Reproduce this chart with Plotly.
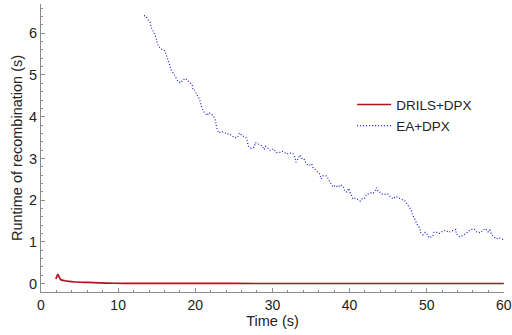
import plotly.graph_objects as go

# DRILS+DPX series
drils_t = [1.93, 2.19, 2.53, 3.09, 3.6, 4.38, 5.2, 6.1, 7.5, 9.5, 12, 15, 20, 30, 40, 50, 60]
drils_y = [0.11, 0.22, 0.10, 0.07, 0.055, 0.04, 0.034, 0.03, 0.02, 0.01, 0.008, 0.006, 0.005, 0.004, 0.004, 0.004, 0.004]

# EA+DPX series
ea_t = [13.35, 13.60, 13.86, 14.16, 14.29, 14.50, 14.71, 14.93, 15.02, 15.19, 15.44, 15.83, 16.05, 16.18,
        16.34, 16.56, 16.77, 16.90, 17.21, 17.50, 17.72, 18.06, 18.37, 18.66, 19.01, 19.31, 19.60, 19.69,
        19.86, 20.12, 20.33, 20.55, 20.72, 20.85, 21.15, 21.53, 21.75, 22.10, 22.36, 22.56, 22.65, 22.78,
        23.04, 23.38, 23.77, 24.11, 24.36, 24.75, 25.10, 25.48, 25.74, 26.09, 26.51, 26.68, 26.77, 26.86,
        27.25, 27.63, 27.80, 28.06, 28.44, 28.74, 28.92, 29.12, 29.43, 29.69, 30.15, 30.54, 30.89, 31.27,
        31.66, 31.88, 32.14, 32.65, 32.91, 33.04, 33.33, 33.55, 33.81, 34.07, 34.20, 34.40, 34.75, 35.10,
        35.23, 35.56, 35.87, 36.13, 36.33, 36.55, 37.03, 37.28, 37.54, 37.84, 38.22, 38.48, 38.83, 39.21,
        39.42, 39.68, 39.90, 40.03, 40.24, 40.41, 40.76, 41.09, 41.40, 41.61, 41.92, 42.21, 42.51, 42.82,
        43.08, 43.37, 43.50, 43.72, 44.05, 44.27, 44.75, 44.95, 45.30, 45.65, 45.98, 46.42, 46.85, 47.19,
        47.40, 47.71, 48.01, 48.13, 48.35, 48.61, 48.82, 49.12, 49.20, 49.51, 49.81, 50.06, 50.32, 50.80,
        50.93, 51.31, 51.61, 52.00, 52.47, 52.81, 53.24, 53.76, 53.84, 54.31, 54.53, 54.95, 55.30, 55.60,
        56.15, 56.50, 56.98, 57.27, 57.62, 57.95, 58.17, 58.39, 58.69, 59.03, 59.37, 59.72, 59.95]
ea_y = [6.42, 6.41, 6.33, 6.25, 6.14, 6.06, 5.96, 5.89, 5.79, 5.69, 5.65, 5.59, 5.58, 5.50,
        5.39, 5.30, 5.20, 5.10, 5.03, 4.94, 4.86, 4.81, 4.86, 4.92, 4.87, 4.82, 4.77, 4.66,
        4.66, 4.55, 4.50, 4.42, 4.30, 4.21, 4.11, 4.03, 4.10, 4.06, 4.02, 3.94, 3.84, 3.73,
        3.61, 3.64, 3.63, 3.58, 3.59, 3.55, 3.49, 3.51, 3.61, 3.54, 3.51, 3.47, 3.39, 3.30,
        3.24, 3.27, 3.38, 3.35, 3.33, 3.28, 3.21, 3.29, 3.24, 3.19, 3.23, 3.14, 3.14, 3.17,
        3.13, 3.10, 3.13, 3.12, 3.03, 2.91, 2.99, 3.08, 3.00, 3.00, 2.94, 2.87, 2.83, 2.87,
        2.79, 2.74, 2.67, 2.62, 2.51, 2.58, 2.58, 2.49, 2.40, 2.32, 2.36, 2.31, 2.37, 2.31,
        2.20, 2.20, 2.28, 2.19, 2.12, 2.03, 2.05, 2.01, 1.98, 2.03, 2.03, 2.14, 2.15, 2.18,
        2.17, 2.24, 2.30, 2.20, 2.18, 2.14, 2.16, 2.15, 2.08, 2.03, 2.09, 2.05, 2.01, 1.98,
        1.92, 1.83, 1.76, 1.67, 1.57, 1.47, 1.40, 1.33, 1.23, 1.17, 1.23, 1.18, 1.10, 1.14,
        1.23, 1.23, 1.20, 1.25, 1.28, 1.23, 1.26, 1.30, 1.19, 1.12, 1.14, 1.18, 1.23, 1.29,
        1.31, 1.24, 1.22, 1.28, 1.32, 1.24, 1.29, 1.19, 1.12, 1.07, 1.10, 1.07, 1.06]

x_ticks = [0, 10, 20, 30, 40, 50, 60]
y_ticks = [0, 1, 2, 3, 4, 5, 6]

font = "Liberation Sans, Arial, sans-serif"
axis_color = "#8c8c8c"

fig = go.Figure()
fig.add_trace(go.Scatter(x=drils_t, y=drils_y, mode="lines", name="DRILS+DPX", legend="legend",
                         line=dict(color="#b0121f", width=1.7, shape="spline", smoothing=0.6)))
fig.add_trace(go.Scatter(x=ea_t, y=ea_y, mode="lines", name="EA+DPX", legend="legend2",
                         line=dict(color="#1a1acc", width=1.2, dash="1px,2px")))

legend_style = dict(xanchor="left", yanchor="top", bgcolor="rgba(0,0,0,0)",
                    font=dict(size=13.5, color="#222222"), itemwidth=34)

fig.update_layout(
    width=512, height=335,
    margin=dict(l=41, r=8, t=4, b=43),
    paper_bgcolor="white", plot_bgcolor="white",
    font=dict(family=font, size=14, color="#222222"),
    showlegend=True,
    legend=dict(x=0.672, y=0.704, **legend_style),
    legend2=dict(x=0.672, y=0.631, **legend_style),
)
fig.update_xaxes(
    range=[0, 60.02], tickvals=x_ticks, ticktext=[str(v) for v in x_ticks],
    automargin=False, ticklabeloverflow="allow",
    showline=True, linecolor=axis_color, linewidth=1, mirror=False,
    ticks="inside", ticklen=4, tickcolor=axis_color, showgrid=False, zeroline=False,
    minor=dict(dtick=2, ticks="inside", ticklen=2, tickcolor=axis_color, showgrid=False),
    title=dict(text="Time (s)", font=dict(size=14.5), standoff=4),
    tickfont=dict(size=14),
)
fig.update_yaxes(
    range=[-0.2, 6.7], tickvals=y_ticks, ticktext=[str(v) for v in y_ticks],
    automargin=False, ticklabeloverflow="allow",
    showline=True, linecolor=axis_color, linewidth=1, mirror=False,
    ticks="inside", ticklen=4, tickcolor=axis_color, showgrid=False, zeroline=False,
    minor=dict(dtick=0.2, ticks="inside", ticklen=2, tickcolor=axis_color, showgrid=False),
    title=dict(text="Runtime of recombination (s)", font=dict(size=14.5), standoff=2),
    tickfont=dict(size=14.5),
)

fig.write_html("out.html", config={"displayModeBar": False},
               post_script="document.body.style.margin='0';document.body.style.overflow='hidden';")
